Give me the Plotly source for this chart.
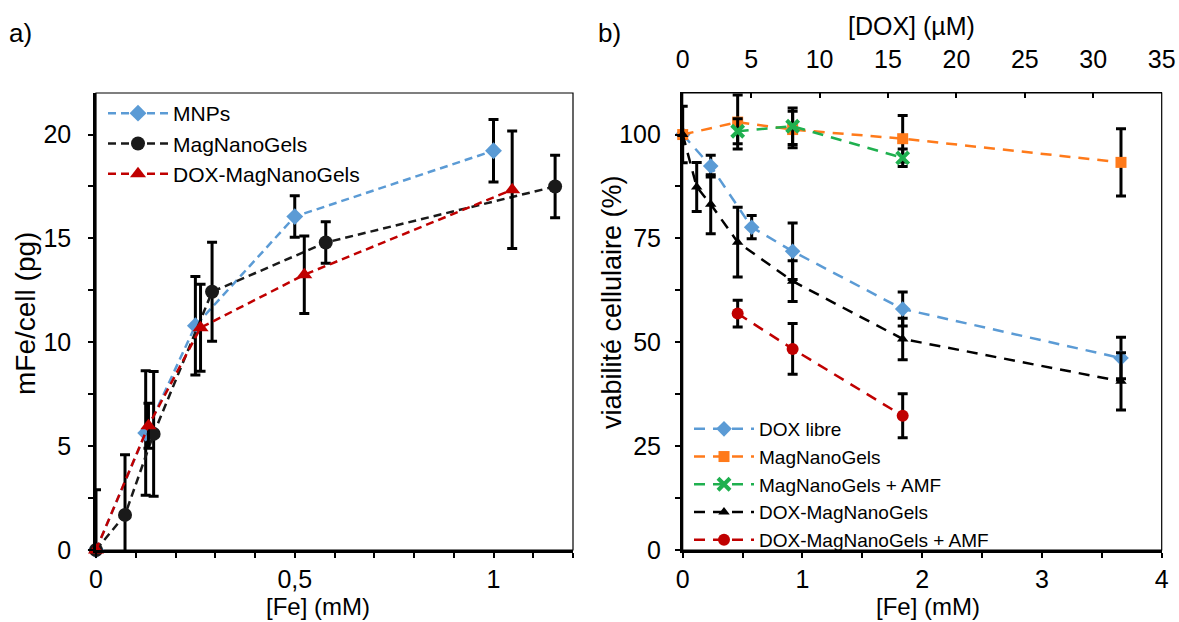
import plotly.graph_objects as go

# ---------------- Panel a data: mFe/cell (pg) vs [Fe] (mM) ----------------
a_mnps_fe = [0, 0.125, 0.25, 0.5, 1.0]
a_mnps_m = [0, 5.63, 10.8, 16.05, 19.22]
a_mnps_err = [0, 3.0, 2.37, 1.0, 1.5]

a_mng_fe = [0, 0.073, 0.145, 0.292, 0.578, 1.155]
a_mng_m = [0, 1.69, 5.59, 12.43, 14.8, 17.5]
a_mng_err = [2.9, 2.9, 3.0, 2.38, 1.0, 1.5]

a_dox_fe = [0, 0.132, 0.263, 0.524, 1.047]
a_dox_m = [0, 5.98, 10.7, 13.25, 17.34]
a_dox_err = [0, 1.08, 2.09, 1.86, 2.83]

# ---------------- Panel b data: viability (%) vs [Fe] (mM) ----------------
b_libre_fe = [0, 0.234, 0.576, 0.918, 1.837, 3.66]
b_libre_v = [100, 92.4, 77.7, 71.9, 58.0, 46.2]
b_libre_err = [0, 2.6, 2.8, 6.8, 4.1, 5.0]

b_mng_fe = [0, 0.459, 0.918, 1.837, 3.66]
b_mng_v = [100, 103.0, 101.2, 99.0, 93.3]
b_mng_err = [0, 6.5, 4.4, 5.6, 8.1]

b_mngamf_fe = [0.459, 0.918, 1.837]
b_mngamf_v = [100.8, 102.0, 94.4]
b_mngamf_err = [3.0, 4.4, 2.1]

b_dox_fe = [0, 0.117, 0.234, 0.459, 0.918, 1.837, 3.66]
b_dox_v = [100, 87.4, 83.2, 74.1, 64.7, 50.8, 40.6]
b_dox_err = [6.8, 5.9, 7.1, 8.4, 4.9, 5.0, 6.9]

b_doxamf_fe = [0.459, 0.918, 1.837]
b_doxamf_v = [56.9, 48.4, 32.3]
b_doxamf_err = [3.2, 6.1, 5.3]

dox_range_um = [0, 35]
fe_range_b = [0, 4]

W, H = 1179, 622
FONT = "Liberation Sans, Arial, sans-serif"
BLUE = "#5B9BD5"
ORANGE = "#FF7A1A"
GREEN = "#1FB04F"
RED = "#C00000"
BLACK = "#1A1A1A"


def px(x):
    return x / W


def py(y):
    return (H - y) / H


fig = go.Figure()


def err(vals):
    return dict(type="data", array=vals, visible=True, color="black",
                thickness=3, width=5)


def add_a(x, y, e, name, color, symbol, size):
    fig.add_trace(go.Scatter(
        x=x, y=y, name=name, mode="lines+markers", error_y=err(e),
        line=dict(color=color, width=2.5, dash="8px,5px"),
        marker=dict(color=color, symbol=symbol, size=size),
        cliponaxis=False, xaxis="x", yaxis="y", legend="legend"))


def add_b(x, y, e, name, color, symbol, size):
    fig.add_trace(go.Scatter(
        x=x, y=y, name=name, mode="lines+markers", error_y=err(e),
        line=dict(color=color, width=2.5, dash="11px,8px"),
        marker=dict(color=color, symbol=symbol, size=size,
                    line=dict(width=0)),
        cliponaxis=False, xaxis="x2", yaxis="y2", legend="legend2"))


add_a(a_mnps_fe, a_mnps_m, a_mnps_err, "MNPs", BLUE, "diamond", 13)
add_a(a_mng_fe, a_mng_m, a_mng_err, "MagNanoGels", BLACK, "circle", 14)
add_a(a_dox_fe, a_dox_m, a_dox_err, "DOX-MagNanoGels", RED, "triangle-up", 14)

add_b(b_libre_fe, b_libre_v, b_libre_err, "DOX libre", BLUE, "diamond", 12)
add_b(b_mng_fe, b_mng_v, b_mng_err, "MagNanoGels", ORANGE, "square", 11)
add_b(b_mngamf_fe, b_mngamf_v, b_mngamf_err, "MagNanoGels + AMF", GREEN, "x-thin", 12)
fig.data[-1].marker.line = dict(width=4, color=GREEN)
add_b(b_dox_fe, b_dox_v, b_dox_err, "DOX-MagNanoGels", "black", "triangle-up", 10)
add_b(b_doxamf_fe, b_doxamf_v, b_doxamf_err, "DOX-MagNanoGels + AMF", RED, "circle", 12)

# invisible trace to activate the top [DOX] axis
fig.add_trace(go.Scatter(x=dox_range_um, y=[None, None], mode="lines",
                         showlegend=False, hoverinfo="skip",
                         xaxis="x3", yaxis="y2"))

xa = [px(96), px(573)]
xb = [px(682.7), px(1161.7)]
yd = [py(550), py(93)]

tickfont = dict(family=FONT, size=25, color="black")
common = dict(showgrid=False, zeroline=False, showline=True, linecolor="black",
              linewidth=2.5, ticks="outside", ticklen=5, tickwidth=2,
              tickcolor="black", tickfont=tickfont, automargin=False)


def minor(d):
    return dict(dtick=d, ticks="outside", ticklen=5, tickwidth=2,
                tickcolor="black")


fig.update_layout(
    width=W, height=H, margin=dict(l=0, r=0, t=0, b=0, autoexpand=False),
    paper_bgcolor="white", plot_bgcolor="white", separators=", ",
    font=dict(family=FONT, size=24, color="black"),
    xaxis=dict(domain=xa, range=[0, 1.2], dtick=0.5, anchor="y",
               minor=minor(0.1), ticklabelstandoff=0, **common),
    yaxis=dict(domain=yd, range=[0, 22], dtick=5, anchor="x",
               minor=minor(2.5), ticklabelstandoff=12, **common),
    xaxis2=dict(domain=xb, range=fe_range_b, dtick=1, anchor="y2",
                minor=minor(0.5), ticklabelstandoff=0, **common),
    yaxis2=dict(domain=yd, range=[0, 110], dtick=25, anchor="x2",
                minor=minor(12.5), ticklabelstandoff=9, **common),
    xaxis3=dict(overlaying="x2", side="top", anchor="y2", range=dox_range_um,
                dtick=5, showgrid=False, zeroline=False, showline=True,
                linecolor="black", linewidth=1, ticks="inside", ticklen=5,
                tickwidth=2, tickcolor="black", tickfont=tickfont,
                ticklabelstandoff=14, automargin=False),
    legend=dict(x=px(103), y=py(93), xanchor="left", yanchor="top",
                bgcolor="rgba(0,0,0,0)", itemwidth=60, tracegroupgap=0,
                font=dict(family=FONT, size=21, color="black")),
    legend2=dict(x=px(689), y=py(410), xanchor="left", yanchor="top",
                 bgcolor="rgba(0,0,0,0)", itemwidth=60, tracegroupgap=0,
                 font=dict(family=FONT, size=19, color="black")),
)

# thin frame lines (top/right)
for xr, yr in (("x domain", "y domain"), ("x2 domain", "y2 domain")):
    fig.add_shape(type="rect", xref=xr, yref=yr, x0=0, x1=1, y0=0, y1=1,
                  line=dict(color="black", width=1.2), layer="below")

ann = [
    ("a)", 20, 33, 0, 26),
    ("b)", 609, 33, 0, 26),
    ("[Fe] (mM)", 318, 606, 0, 24),
    ("[Fe] (mM)", 928, 606, 0, 24),
    ("[DOX] (µM)", 911, 26, 0, 25),
    ("mFe/cell (pg)", 25, 314, -90, 28),
    ("viabilité cellulaire (%)", 612, 302, -90, 27),
]
for t, x0, y0, ang, fs in ann:
    fig.add_annotation(text=t, x=px(x0), y=py(y0), xref="paper",
                       yref="paper", showarrow=False, textangle=ang,
                       xanchor="center", yanchor="middle",
                       font=dict(family=FONT, size=fs, color="black"))

# remove the browser's default page margin so the figure fills the window
fig.write_html(
    "out.html",
    config={"displayModeBar": False},
    post_script="document.body.style.margin='0';"
                "document.documentElement.style.overflow='hidden';",
)
